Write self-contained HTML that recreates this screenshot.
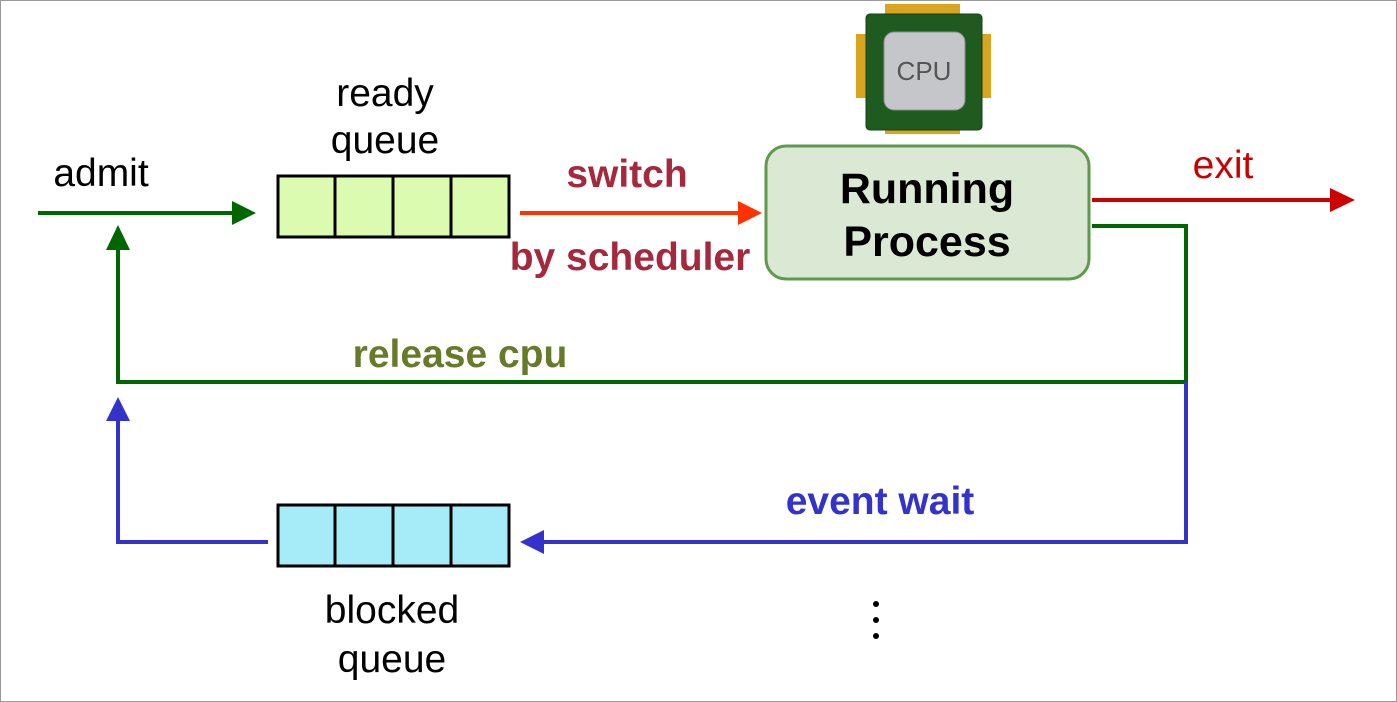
<!DOCTYPE html>
<html><head><style>body{margin:0;background:#fff}svg{display:block}</style></head><body>
<svg width="1397" height="702" viewBox="0 0 1397 702" xmlns="http://www.w3.org/2000/svg" font-family="Liberation Sans, Arial, sans-serif">
<rect x="0.5" y="0.5" width="1396" height="701" fill="#fff" stroke="#999" stroke-width="1"/>
<!-- CPU -->
<g>
<rect x="856" y="34" width="135" height="64" fill="#d9a520"/>
<rect x="885" y="4" width="75" height="130" fill="#d9a520"/>
<rect x="866" y="14" width="116" height="116" rx="4" fill="#1f5a1f" stroke="#173f17"/>
<rect x="884" y="32" width="81" height="78" rx="10" fill="#c4c6ca" stroke="#8a8c90"/>
<text x="924" y="80" font-size="26" text-anchor="middle" fill="#555">CPU</text>
</g>
<!-- ready queue -->
<rect x="278" y="176" width="231" height="61" fill="#dbfcb0" stroke="#000" stroke-width="3"/>
<line x1="335" y1="176" x2="335" y2="237" stroke="#000" stroke-width="3"/>
<line x1="393" y1="176" x2="393" y2="237" stroke="#000" stroke-width="3"/>
<line x1="451" y1="176" x2="451" y2="237" stroke="#000" stroke-width="3"/>
<!-- blocked queue -->
<rect x="278" y="505" width="231" height="61" fill="#a6ecf8" stroke="#000" stroke-width="3"/>
<line x1="335" y1="505" x2="335" y2="566" stroke="#000" stroke-width="3"/>
<line x1="393" y1="505" x2="393" y2="566" stroke="#000" stroke-width="3"/>
<line x1="451" y1="505" x2="451" y2="566" stroke="#000" stroke-width="3"/>
<!-- admit arrow -->
<line x1="38" y1="213" x2="235" y2="213" stroke="#006600" stroke-width="4"/>
<polygon points="232,201 256,213 232,225" fill="#006600"/>
<!-- switch arrow -->
<line x1="520" y1="213" x2="740" y2="213" stroke="#ff3300" stroke-width="4"/>
<polygon points="738,201 762,213 738,225" fill="#ff3300"/>
<!-- running -->
<rect x="766" y="146" width="323" height="133" rx="20" fill="#dbe9d4" stroke="#5f9a4c" stroke-width="3"/>
<text x="927" y="203" font-size="43" font-weight="bold" text-anchor="middle">Running</text>
<text x="927" y="256" font-size="43" font-weight="bold" text-anchor="middle">Process</text>
<!-- exit -->
<line x1="1092" y1="200" x2="1332" y2="200" stroke="#cc0000" stroke-width="4"/>
<polygon points="1330,188 1355,200 1330,212" fill="#cc0000"/>
<!-- release -->
<polyline points="1092,226 1186,226 1186,382 118,382 118,248" fill="none" stroke="#006600" stroke-width="4"/>
<polygon points="106,250 118,225 130,250" fill="#006600"/>
<!-- event wait -->
<polyline points="1186,382 1186,542 540,542" fill="none" stroke="#3333cc" stroke-width="4"/>
<polygon points="544,530 520,542 544,554" fill="#3333cc"/>
<polyline points="268,542 118,542 118,418" fill="none" stroke="#3333cc" stroke-width="4"/>
<polygon points="106,421 118,397 130,421" fill="#3333cc"/>
<!-- text -->
<text x="385" y="106" font-size="39" text-anchor="middle">ready</text>
<text x="385" y="153" font-size="39" text-anchor="middle">queue</text>
<text x="101" y="186" font-size="39" text-anchor="middle">admit</text>
<text x="627" y="187" font-size="39" font-weight="bold" text-anchor="middle" fill="#a5283c">switch</text>
<text x="630" y="270" font-size="39" font-weight="bold" text-anchor="middle" fill="#a5283c">by scheduler</text>
<text x="1223" y="178" font-size="39" text-anchor="middle" fill="#cc0000">exit</text>
<text x="460" y="367" font-size="39" font-weight="bold" text-anchor="middle" fill="#667a2a">release cpu</text>
<text x="880" y="514" font-size="39" font-weight="bold" text-anchor="middle" fill="#3333cc">event wait</text>
<text x="392" y="623" font-size="39" text-anchor="middle">blocked</text>
<text x="392" y="672" font-size="39" text-anchor="middle">queue</text>
<circle cx="876" cy="604" r="3" fill="#000"/>
<circle cx="876" cy="620" r="3" fill="#000"/>
<circle cx="876" cy="636" r="3" fill="#000"/>
</svg>
</body></html>
